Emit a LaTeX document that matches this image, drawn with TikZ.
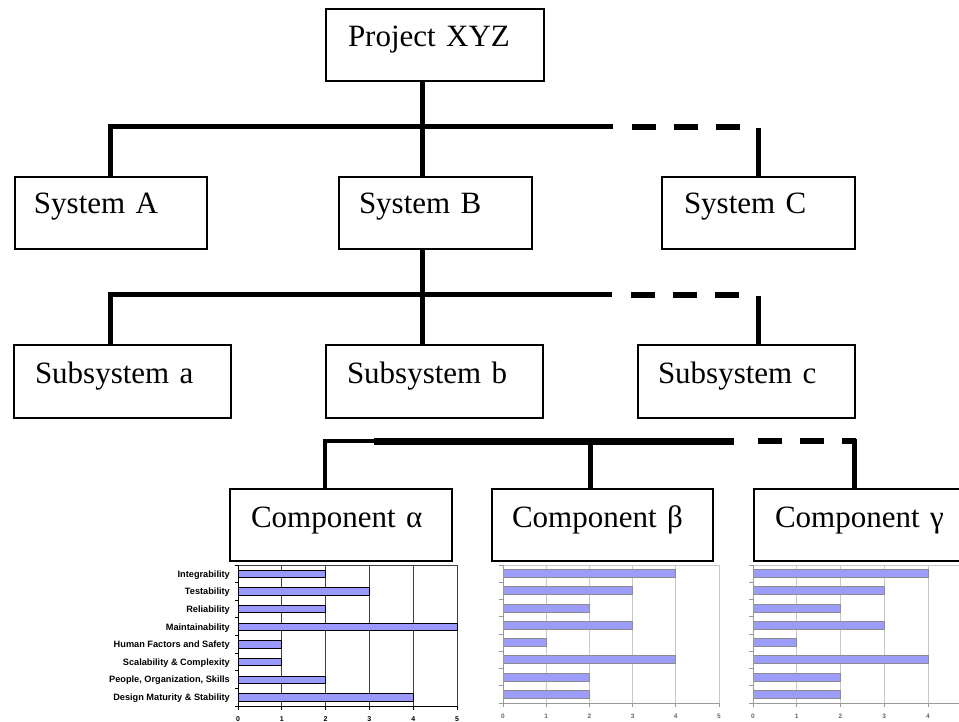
\documentclass[tikz,border=0pt]{standalone}
\usepackage{fontspec}
\setmainfont{Liberation Serif}
\newfontfamily\chartsans{Liberation Sans}
\definecolor{barblue}{RGB}{153,153,255}
\definecolor{softbar}{RGB}{156,156,250}
\begin{document}
\begin{tikzpicture}[x=1pt,y=-1pt,
  box/.style={draw, line width=2pt, anchor=north west, inner ysep=0pt,
    align=left, font=\fontsize{31}{36}\selectfont},
  link/.style={line width=5pt},
  buslink/.style={line width=5pt},
  dashlink/.style={line width=5.5pt, dash pattern=on 23.5pt off 18.5pt},
  % sharp chart
  gridA/.style={draw=black!75, line width=0.9pt},
  axisA/.style={draw=black, line width=0.9pt},
  barA/.style={fill=barblue, draw=black, line width=0.7pt},
  catlabel/.style={anchor=east, inner sep=0pt, text height=6.8pt, text depth=0pt,
    font=\chartsans\bfseries\fontsize{9.2}{10}\selectfont},
  ticklabA/.style={inner sep=0pt, font=\chartsans\bfseries\fontsize{7}{8}\selectfont},
  % soft charts
  gridB/.style={draw=black!22, line width=0.9pt},
  axisB/.style={draw=black!40, line width=0.9pt},
  barB/.style={fill=softbar, draw=black!45, line width=0.8pt},
  ticklabB/.style={inner sep=0pt, text=black!60, font=\chartsans\bfseries\fontsize{6.5}{7}\selectfont},
]
\useasboundingbox (0,0) rectangle (959,722);

% ---------- boxes ----------
\node[box, inner xsep=22pt, text width=174pt, text height=38pt, text depth=34pt] (proj) at (325,8) {Project XYZ};

\node[box, inner xsep=19pt, text width=154pt, text height=37pt, text depth=35pt] (sysA) at (14,176) {System A};
\node[box, inner xsep=20pt, text width=153pt, text height=37pt, text depth=35pt] (sysB) at (338,176) {System B};
\node[box, inner xsep=22pt, text width=149pt, text height=37pt, text depth=35pt] (sysC) at (661,176) {System C};

\node[box, inner xsep=21pt, text width=175pt, text height=38pt, text depth=35pt] (subA) at (13,344) {Subsystem a};
\node[box, inner xsep=21pt, text width=175pt, text height=38pt, text depth=35pt] (subB) at (325,344) {Subsystem b};
\node[box, inner xsep=20pt, text width=177pt, text height=38pt, text depth=35pt] (subC) at (637,344) {Subsystem c};

\node[box, inner xsep=21pt, text width=180pt, text height=38pt, text depth=34pt] (compA) at (229,488) {Component α};
\node[box, inner xsep=20pt, text width=181pt, text height=38pt, text depth=34pt] (compB) at (491,488) {Component β};
\node[box, inner xsep=21pt, text width=188pt, text height=38pt, text depth=34pt] (compC) at (753,488) {Component γ};

% ---------- bus coordinates ----------
\coordinate (trunk) at (422,127);
\coordinate (busAL) at (110,127);
\coordinate (busAE) at (613,127);
\coordinate (busAD) at (632,127);
\coordinate (busADE) at (740,127);
\coordinate (dropC) at (758,128);

\coordinate (busBL) at (110,295);
\coordinate (busBE) at (612,295);
\coordinate (busBD) at (631,295);
\coordinate (busBDE) at (740,295);
\coordinate (dropc) at (758,296);

\coordinate (busCL) at (325,441);
\coordinate (busCM) at (374,441);
\coordinate (busCE) at (734,441);
\coordinate (busCD) at (758,441);
\coordinate (busCDE) at (856,441);
\coordinate (dropG) at (854,438.5);
\coordinate (dropB) at (590,441);

% ---------- system level ----------
\draw[link] (proj.south -| trunk) -- (sysB.north -| trunk);
\draw[buslink] (sysA.north -| busAL) -- (busAL) -- (busAE);
\draw[dashlink] (busAD) -- (busADE);
\draw[link] (dropC) -- (sysC.north -| dropC);

% ---------- subsystem level ----------
\draw[link] (sysB.south -| trunk) -- (subB.north -| trunk);
\draw[buslink] (subA.north -| busBL) -- (busBL) -- (busBE);
\draw[dashlink] (busBD) -- (busBDE);
\draw[link] (dropc) -- (subC.north -| dropc);

% ---------- component level ----------
\draw[line width=4.5pt] (compA.north -| busCL) -- (busCL) -- (busCM);
\draw[line width=7pt] (busCM) -- (busCE);
\draw[link] (dropB) -- (compB.north -| dropB);
\draw[line width=5.5pt, dash pattern=on 24pt off 18pt] (busCD) -- (busCDE);
\draw[link] (dropG) -- (compC.north -| dropG);

% ---------- chart under Component alpha ----------
\foreach \i in {1,...,5}
  \draw[gridA] ({238+43.8*\i},565) -- ({238+43.8*\i},706);
\draw[gridA] (238,565) -- (457,565);
\foreach \k in {0,...,8}
  \draw[axisA] (234.5,{565+17.625*\k}) -- (238,{565+17.625*\k});
\foreach \i in {0,...,5}{
  \draw[axisA] ({238+43.8*\i},706) -- ({238+43.8*\i},709.5);
  \node[ticklabA] (ta\i) at ({238+43.8*\i},719) {\i};
}
\foreach \v/\t [count=\r from 0] in {2/Integrability, 3/Testability, 2/Reliability,
    5/Maintainability, 1/Human Factors and Safety, 1/Scalability \& Complexity,
    2/{People, Organization, Skills}, 4/Design Maturity \& Stability}{
  \pgfmathsetmacro\c{565+17.625*(\r+0.5)}
  \draw[barA] (238,{\c-3.7}) rectangle ({238+43.8*\v},{\c+3.7});
  \node[catlabel] (cat\r) at (230,\c) {\t};
}
\draw[axisA] (238,565) -- (238,706) -- (457,706);

% ---------- chart under Component beta ----------
\foreach \i in {1,...,5}
  \draw[gridB] ({503+43.2*\i},565) -- ({503+43.2*\i},703);
\draw[gridB] (503,565) -- (719,565);
\foreach \k in {0,...,8}
  \draw[axisB] (499,{565+17.25*\k}) -- (503,{565+17.25*\k});
\foreach \i in {0,...,5}{
  \draw[axisB] ({503+43.2*\i},703) -- ({503+43.2*\i},706.5);
  \node[ticklabB] (tb\i) at ({503+43.2*\i},716) {\i};
}
\foreach \v [count=\r from 0] in {4,3,2,3,1,4,2,2}{
  \pgfmathsetmacro\c{565+17.25*(\r+0.5)}
  \draw[barB] (503,{\c-4}) rectangle ({503+43.2*\v},{\c+4});
}
\draw[axisB] (503,565) -- (503,703) -- (719,703);

% ---------- chart under Component gamma ----------
\foreach \i in {1,...,5}
  \draw[gridB] ({753+43.75*\i},565) -- ({753+43.75*\i},703);
\draw[gridB] (753,565) -- (972,565);
\foreach \k in {0,...,8}
  \draw[axisB] (749,{565+17.25*\k}) -- (753,{565+17.25*\k});
\foreach \i in {0,...,4}{
  \draw[axisB] ({753+43.75*\i},703) -- ({753+43.75*\i},706.5);
  \node[ticklabB] (tc\i) at ({753+43.75*\i},716) {\i};
}
\foreach \v [count=\r from 0] in {4,3,2,3,1,4,2,2}{
  \pgfmathsetmacro\c{565+17.25*(\r+0.5)}
  \draw[barB] (753,{\c-4}) rectangle ({753+43.75*\v},{\c+4});
}
\draw[axisB] (753,565) -- (753,703) -- (972,703);
\end{tikzpicture}
\end{document}
